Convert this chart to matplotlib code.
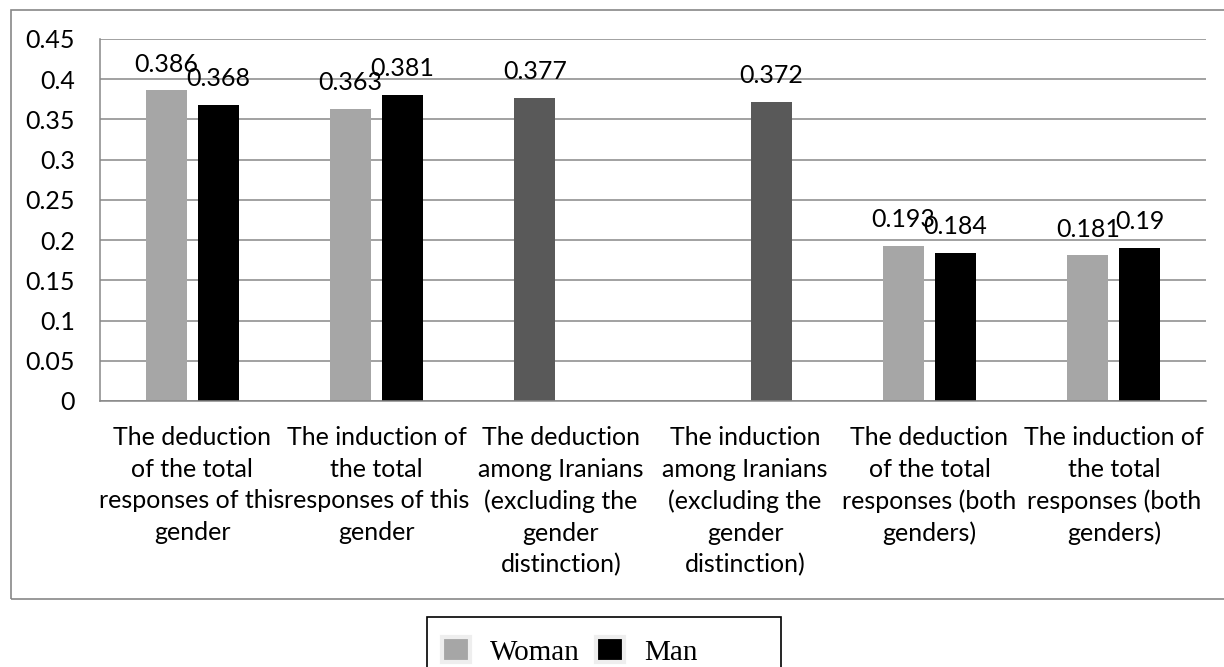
import numpy as np
import matplotlib

matplotlib.use("Agg")
import matplotlib.pyplot as plt
from matplotlib.patches import Patch, Rectangle

categories = [
    "The deduction\nof the total\nresponses of this\ngender",
    "The induction of\nthe total\nresponses of this\ngender",
    "The deduction\namong Iranians\n(excluding the\ngender\ndistinction)",
    "The induction\namong Iranians\n(excluding the\ngender\ndistinction)",
    "The deduction\nof the total\nresponses (both\ngenders)",
    "The induction of\nthe total\nresponses (both\ngenders)",
]
# the two "among Iranians" bars sit in one slot each and are drawn dark gray
woman = [0.386, 0.363, 0.377, np.nan, 0.193, 0.181]
man = [0.368, 0.381, np.nan, 0.372, 0.184, 0.19]
combined_idx = [2, 3]

C_WOMAN = "#a6a6a6"
C_MAN = "#000000"
C_ALL = "#595959"
GRID = "#878787"

plt.rcParams["font.family"] = ["Lato", "DejaVu Sans"]
FS = 18

W, H = 1224, 667
fig = plt.figure(figsize=(W / 100, H / 100), dpi=100)
ax = fig.add_axes([100 / W, 1 - 401 / H, (1206 - 100) / W, (401 - 39) / H])

x = np.arange(len(categories))
bw = 0.222
off = 0.141

w_cols = [C_ALL if i in combined_idx else C_WOMAN for i in x]
m_cols = [C_ALL if i in combined_idx else C_MAN for i in x]
bars_w = ax.bar(x - off, woman, bw, color=w_cols, zorder=2)
bars_m = ax.bar(x + off, man, bw, color=m_cols, zorder=2)

for bars, vals in ((bars_w, woman), (bars_m, man)):
    for b, v in zip(bars, vals):
        if np.isnan(v):
            continue
        ax.annotate(f"{v:g}", (b.get_x() + b.get_width() / 2, v),
                    xytext=(0, 19), textcoords="offset points",
                    ha="center", va="center", fontsize=FS)

ax.set_xlim(-0.5, len(categories) - 0.5)
ax.set_ylim(0, 0.45)
ax.set_yticks(np.arange(0, 0.451, 0.05))
ax.set_yticklabels([f"{t:g}" for t in np.arange(0, 0.451, 0.05).round(2)], fontsize=FS)
ax.set_xticks(x)
ax.set_xticklabels(categories, fontsize=FS, linespacing=1.45)
ax.tick_params(axis="both", length=0)
ax.tick_params(axis="y", pad=18)
ax.tick_params(axis="x", pad=18)

ax.grid(axis="y", color=GRID, linewidth=1.1)
ax.set_axisbelow(True)
for s in ("top", "right"):
    ax.spines[s].set_visible(False)
for s in ("left", "bottom"):
    ax.spines[s].set_color(GRID)
    ax.spines[s].set_linewidth(1.1)

# outer chart frame (runs off the right edge in the original)
fig.patches.append(Rectangle((11 / W, 1 - 599 / H), 1.2, (599 - 10) / H,
                             transform=fig.transFigure, fill=False,
                             edgecolor=GRID, linewidth=1.2))
# legend box (runs off the bottom edge)
fig.patches.append(Rectangle((427 / W, -0.2), (781 - 427) / W, 0.2 + 1 - 617 / H,
                             transform=fig.transFigure, fill=False,
                             edgecolor="black", linewidth=1.2))

handles = [Patch(facecolor=C_WOMAN, edgecolor="#eeeeee", linewidth=3),
           Patch(facecolor=C_MAN, edgecolor="#eeeeee", linewidth=3)]
fig.legend(handles, ["Woman", "Man"], loc="upper left",
           bbox_to_anchor=(442 / W, 1 - 637 / H), ncol=2, frameon=False,
           prop={"family": "Liberation Serif", "size": 21},
           handlelength=0.95, handleheight=0.95, handletextpad=0.7,
           columnspacing=0.55, borderpad=0.0, borderaxespad=0.0)

fig.savefig("out.png", dpi=100)
